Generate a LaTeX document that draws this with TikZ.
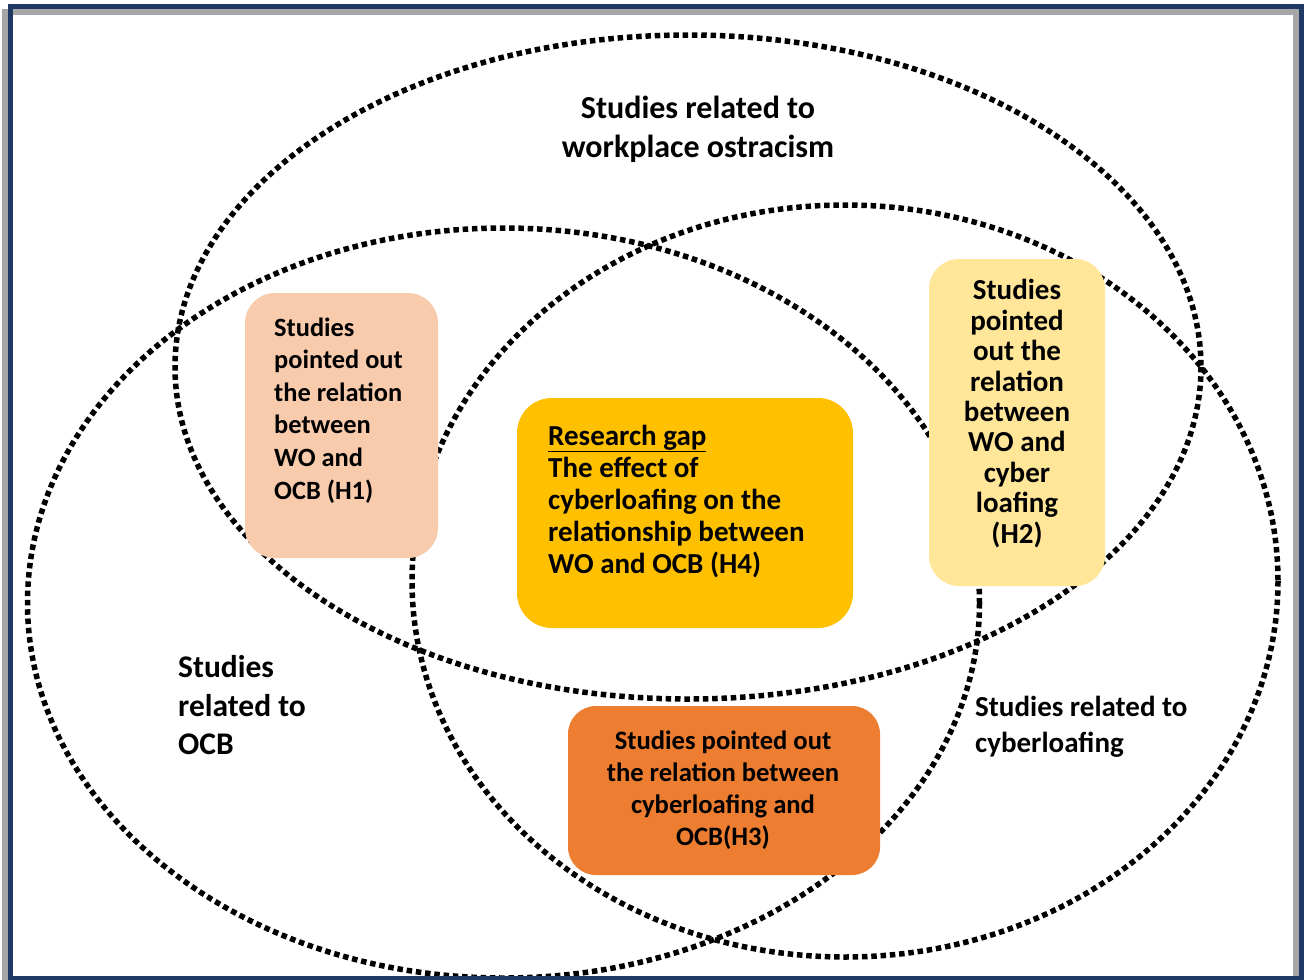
\documentclass[tikz,border=0pt]{standalone}
\usepackage{fontspec}
\setmainfont{Carlito}
\begin{document}
\begin{tikzpicture}[x=1pt,y=-1pt,
  dotline/.style={line width=5.5pt,dash pattern=on 5.5pt off 3.8pt,black},
  box/.style={rounded corners=30pt,inner sep=0pt,draw=none},
  lbl/.style={inner sep=0pt,font=\bfseries},
]
\useasboundingbox (0,0) rectangle (1304,980);
\fill[white] (0,0) rectangle (1304,980);
\definecolor{hone}{HTML}{F8CBAD}
\definecolor{hgap}{HTML}{FFC000}
\definecolor{htwo}{HTML}{FFE699}
\definecolor{hthree}{HTML}{ED7D31}
\definecolor{navy}{HTML}{203864}
% ellipses
\draw[dotline] (688,367) ellipse [x radius=513, y radius=332];
\draw[dotline] (503.5,603) ellipse [x radius=476, y radius=375];
\draw[dotline] (845,581) ellipse [x radius=433, y radius=376];
% boxes
\node[box,fill=hone,minimum width=193pt,minimum height=265pt] (h1) at (341.5,425.5) {};
\node[box,fill=hgap,rounded corners=35pt,minimum width=336pt,minimum height=230pt] (gap) at (685,513) {};
\node[box,fill=htwo,minimum width=176pt,minimum height=327pt] (h2) at (1017,422.5) {};
\node[box,fill=hthree,rounded corners=28pt,minimum width=312pt,minimum height=169pt] (h3) at (724,790.5) {};
% texts (base anchor = baseline of last line)
\node[lbl,anchor=base,align=center,font=\bfseries\fontsize{32}{39}\selectfont] (two) at (698,157) {Studies related to\\workplace ostracism};
\node[lbl,anchor=base west,align=left,font=\bfseries\fontsize{31.5}{38.5}\selectfont] (tocb) at (178,754.5) {Studies\\related to\\OCB};
\node[lbl,anchor=base west,align=left,font=\bfseries\fontsize{29}{36}\selectfont] (tcy) at (975,752) {Studies related to\\cyberloafing};
\node[lbl,anchor=base west,align=left,font=\bfseries\fontsize{26.4}{32.6}\selectfont] (th1) at (274,499) {Studies\\pointed out\\the relation\\between\\WO and\\OCB (H1)};
\node[lbl,anchor=base west,align=left,font=\bfseries\fontsize{29}{32}\selectfont] (tgap) at (548,573) {\underline{Research gap}\\The effect of\\cyberloafing on the\\relationship between\\WO and OCB (H4)};
\node[lbl,anchor=base,align=center,font=\bfseries\fontsize{29}{30.4}\selectfont] (th2) at (1017,543) {Studies\\pointed\\out the\\relation\\between\\WO and\\cyber\\loafing\\(H2)};
\node[lbl,anchor=base,align=center,font=\bfseries\fontsize{26.6}{32}\selectfont] (th3) at (723,845) {Studies pointed out\\the relation between\\cyberloafing and\\OCB(H3)};
% frame
\draw[line width=6pt,gray!70] (5,12) rectangle (1296,984);
\draw[line width=5pt,navy] (10.5,6.5) rectangle (1301.5,978.5);
\end{tikzpicture}
\end{document}
